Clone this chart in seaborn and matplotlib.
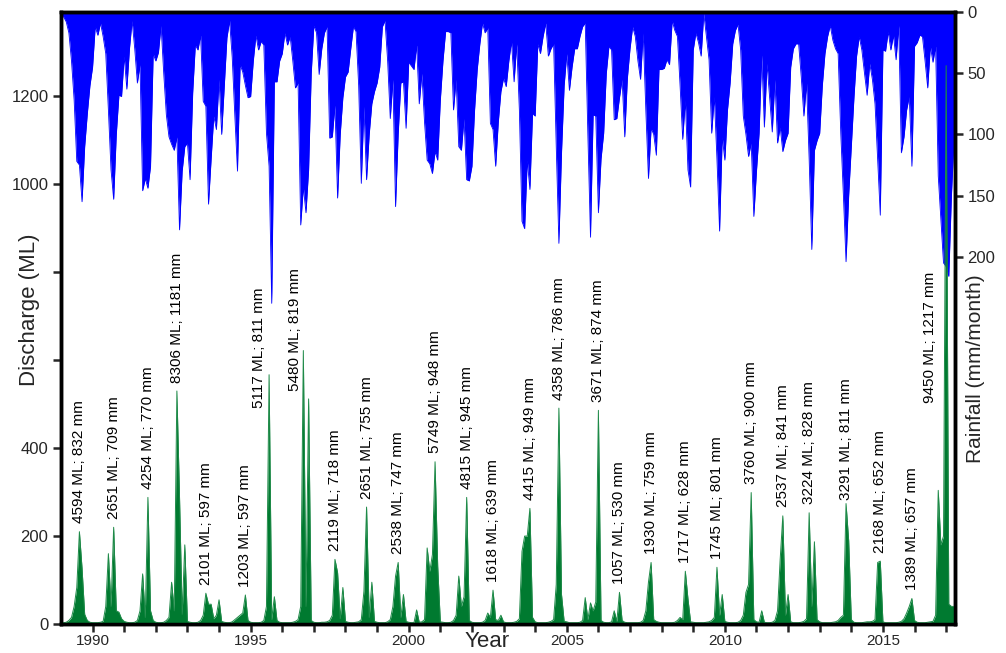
import matplotlib
matplotlib.use("Agg")
import matplotlib.pyplot as plt
import numpy as np
import pandas as pd
import seaborn as sns

sns.set_style("ticks")
plt.rcParams['font.family'] = ['Liberation Sans', 'DejaVu Sans']

start_year = 1989

# monthly rainfall (mm/month), Jan 1989 - Apr 2017, one row per year
rainfall = [
    1, 4, 8, 17, 40, 72, 122, 125, 155, 110, 83, 60,
    45, 12, 19, 9, 20, 34, 80, 129, 153, 100, 68, 69,
    36, 63, 30, 7, 30, 58, 43, 146, 136, 144, 126, 34,
    40, 33, 11, 50, 84, 102, 108, 113, 102, 178, 130, 110,
    107, 137, 66, 27, 31, 19, 73, 77, 157, 120, 85, 96,
    55, 100, 60, 21, 7, 37, 85, 130, 43, 49, 60, 70,
    69, 40, 19, 31, 24, 27, 99, 126, 238, 57, 57, 40,
    34, 17, 27, 20, 40, 62, 58, 174, 143, 164, 129, 50,
    11, 17, 51, 30, 17, 12, 103, 102, 76, 152, 100, 70,
    53, 49, 30, 12, 16, 60, 140, 77, 137, 100, 75, 65,
    58, 45, 12, 7, 40, 87, 55, 159, 100, 58, 57, 95,
    41, 44, 47, 27, 75, 50, 90, 121, 124, 132, 114, 121,
    72, 40, 16, 16, 17, 80, 55, 110, 113, 87, 137, 138,
    126, 80, 47, 26, 9, 17, 13, 91, 96, 126, 90, 65,
    54, 61, 40, 24, 57, 26, 80, 171, 177, 121, 145, 83,
    85, 26, 34, 20, 9, 36, 30, 26, 110, 189, 115, 60,
    34, 64, 45, 30, 30, 20, 12, 9, 100, 184, 84, 85,
    164, 120, 99, 50, 28, 31, 88, 87, 70, 55, 102, 54,
    30, 12, 20, 40, 55, 17, 80, 136, 95, 100, 117, 47,
    47, 46, 39, 43, 7, 15, 20, 60, 104, 72, 129, 143,
    31, 17, 25, 36, 1, 20, 39, 99, 69, 120, 179, 102,
    121, 80, 58, 26, 15, 10, 31, 85, 100, 118, 107, 167,
    130, 99, 35, 94, 42, 70, 98, 55, 107, 94, 114, 105,
    99, 45, 30, 26, 26, 53, 85, 58, 120, 194, 113, 105,
    99, 60, 34, 20, 11, 23, 30, 34, 99, 150, 204, 150,
    110, 70, 36, 20, 31, 50, 68, 42, 55, 75, 120, 166,
    31, 32, 16, 31, 19, 39, 11, 115, 102, 80, 69, 126,
    28, 25, 19, 20, 40, 62, 28, 41, 28, 134, 170, 205,
    208, 216, 150, 104,
]

# discharge (ML), same months
discharge = [
    3, 3, 4, 8, 15, 40, 83, 210, 127, 22, 8, 4,
    3, 3, 3, 4, 6, 40, 160, 40, 220, 30, 27, 12,
    6, 4, 3, 3, 4, 8, 30, 114, 15, 288, 30, 8,
    4, 3, 3, 4, 8, 15, 95, 30, 530, 289, 22, 180,
    6, 4, 3, 3, 4, 8, 20, 70, 45, 45, 12, 20,
    55, 6, 4, 3, 3, 5, 10, 15, 20, 25, 66, 8,
    4, 3, 3, 3, 4, 8, 40, 567, 10, 62, 8, 4,
    3, 3, 3, 3, 4, 6, 10, 40, 622, 40, 512, 8,
    4, 3, 3, 4, 4, 5, 8, 20, 147, 117, 12, 83,
    6, 4, 3, 3, 4, 5, 10, 75, 266, 15, 95, 6,
    4, 3, 3, 3, 5, 10, 40, 109, 140, 15, 67, 6,
    4, 3, 3, 32, 4, 5, 10, 173, 120, 158, 369, 132,
    5, 4, 3, 3, 4, 8, 20, 109, 40, 62, 288, 8,
    4, 3, 3, 3, 4, 8, 25, 15, 77, 10, 8, 20,
    5, 3, 3, 3, 4, 6, 12, 165, 200, 200, 263, 15,
    5, 3, 3, 3, 3, 4, 6, 10, 90, 491, 67, 6,
    5, 3, 3, 3, 3, 4, 8, 60, 10, 48, 30, 50,
    486, 8, 4, 3, 3, 5, 30, 6, 72, 8, 4, 3,
    3, 3, 3, 3, 4, 8, 30, 95, 140, 10, 6, 4,
    3, 3, 3, 3, 3, 4, 8, 15, 10, 120, 57, 5,
    4, 3, 3, 3, 3, 4, 5, 8, 15, 129, 20, 67,
    6, 4, 3, 3, 3, 4, 8, 20, 72, 90, 299, 10,
    5, 4, 30, 4, 3, 3, 4, 8, 30, 147, 246, 20,
    67, 5, 3, 3, 3, 4, 6, 12, 253, 40, 187, 10,
    5, 3, 3, 3, 3, 4, 5, 8, 15, 20, 274, 190,
    10, 4, 3, 3, 3, 4, 5, 5, 6, 10, 140, 143,
    5, 3, 3, 3, 3, 3, 4, 6, 12, 25, 40, 58,
    8, 4, 3, 3, 3, 4, 5, 6, 20, 304, 180, 200,
    1270, 45, 40, 40,
]

# annual totals written above each year's peak
label_ml = [4594, 2651, 4254, 8306, 2101, 1203, 5117, 5480, 2119, 2651,
            2538, 5749, 4815, 1618, 4415, 4358, 3671, 1057, 1930, 1717,
            1745, 3760, 2537, 3224, 3291, 2168, 1389, 9450]
label_mm = [832, 709, 770, 1181, 597, 597, 811, 819, 718, 755,
            747, 948, 945, 639, 949, 786, 874, 530, 759, 628,
            801, 900, 841, 828, 811, 652, 657, 1217]

months = np.arange(len(rainfall))
df = pd.DataFrame({"year": start_year + months / 12.0,
                   "rainfall": rainfall,
                   "discharge": discharge})

fig = plt.figure(figsize=(10.06, 6.53), dpi=100)
ax = fig.add_axes([0.0606, 0.0444, 0.8887, 0.9372])
ax2 = ax.twinx()
ax.set_zorder(ax2.get_zorder() + 1)
ax.patch.set_visible(False)

# rainfall hanging from the top
ax2.fill_between(df["year"], 0, df["rainfall"], color="#0000ff", lw=0)
sns.lineplot(data=df, x="year", y="rainfall", ax=ax2, color="#0000ff", lw=0.6)
ax2.set_ylim(500, 0)

# discharge
ax.fill_between(df["year"], 0, df["discharge"], color="#007a30", lw=0)
sns.lineplot(data=df, x="year", y="discharge", ax=ax, color="#1e8a48", lw=0.7)
ax.set_ylim(0, 1392)
ax.set_xlim(1989, 2017.28)

# annotations: water-year (Apr-Mar) peaks
nudge = {6: (-4 / 12.0, 491), 7: (-3 / 12.0, 530), 24: (0, 281), 27: (-6 / 12.0, 503)}
for k, (ml, mm) in enumerate(zip(label_ml, label_mm)):
    lo, hi = 12 * k + 3, min(12 * k + 15, len(discharge))
    i = lo + int(np.argmax(discharge[lo:hi]))
    x, y = start_year + i / 12.0, discharge[i] + 19
    if k in nudge:
        x += nudge[k][0]
        y = nudge[k][1]
    ax.text(x, y, "%d ML; %d mm" % (ml, mm), rotation=90, ha="center",
            va="bottom", fontsize=11, color="black", zorder=5)

# axes styling
ax.set_xticks(range(1990, 2018))
ax.set_xticklabels([str(t) if t % 5 == 0 else "" for t in range(1990, 2018)])
ax.set_yticks(range(0, 1201, 200))
ax.set_yticklabels(["0", "200", "400", "", "", "1000", "1200"])
ax2.set_yticks([0, 50, 100, 150, 200])

ax.tick_params(axis="x", direction="out", length=6, width=1.8, labelsize=11, pad=1)
ax.tick_params(axis="y", direction="out", length=6, width=1.8, labelsize=12, pad=3)
ax2.tick_params(axis="y", direction="out", length=6, width=1.8, labelsize=12, pad=3)

for a in (ax, ax2):
    for s in a.spines.values():
        s.set_linewidth(2.5)
        s.set_color("black")

ax.set_xlabel("Year", fontsize=16)
ax.xaxis.set_label_coords(0.4765, -0.012)
ax.set_ylabel("Discharge (ML)", fontsize=16)
ax.yaxis.set_label_coords(-0.024, 0.513)
ax2.set_ylabel("Rainfall (mm/month)", fontsize=15)
ax2.yaxis.set_label_coords(1.012, 0.418)

fig.savefig("out.png", dpi=100)
